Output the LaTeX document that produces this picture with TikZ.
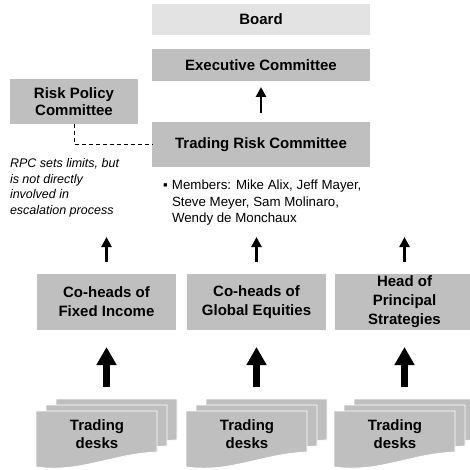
\documentclass[tikz,border=0pt]{standalone}
\usepackage{fontspec}
\setmainfont{Liberation Sans}
\usetikzlibrary{positioning,arrows.meta,backgrounds}

\begin{document}
\begin{tikzpicture}[x=1pt, y=1pt,
  every node/.style={inner sep=0pt, outer sep=0pt},
  unitbox/.style={fill=gray!50, align=center, font=\bfseries\fontsize{15}{19}\selectfont},
  widebox/.style={unitbox, minimum width=218pt},
  headbox/.style={unitbox, minimum width=139pt, minimum height=56pt},
  desklabel/.style={align=center, font=\bfseries\fontsize{15}{18}\selectfont},
  deskfill/.style={fill=gray!50, draw=white, line width=0.8pt},
  notetext/.style={align=left, anchor=north west},
  smallarrow/.style={-{Triangle[width=10pt,length=10pt]}, line width=2.5pt},
  bigarrow/.style={-{Triangle[width=19pt,length=18pt]}, line width=7.5pt},
  linkline/.style={dash pattern=on 4pt off 3pt, line width=0.9pt}]
\useasboundingbox (0,0) rectangle (469,-470);

% board and committees
\node[widebox, minimum height=31pt, fill=gray!22] (board) at (261,-19.5) {Board};
\node[widebox, minimum height=32pt, below=14pt of board] (exec) {Executive Committee};
\node[widebox, minimum height=45pt, below=41pt of exec] (trc) {Trading Risk Committee};
\draw[smallarrow, shorten <=9pt, shorten >=6pt] (trc) -- (exec);

% risk policy committee
\node[unitbox, minimum width=128pt, minimum height=45pt, font=\bfseries\fontsize{15}{16.5}\selectfont]
  (rpc) at (74,-101.5) {Risk Policy\\Committee};
\draw[linkline] (rpc.south) |- (trc.west);

\node[notetext, font=\itshape\fontsize{12.5}{15.7}\selectfont] (rpcnote) at (10,-158.5)
  {RPC sets limits, but\\is not directly\\involved in\\escalation process};

\node[notetext, font=\fontsize{13.3}{16.5}\selectfont] (members) at (163,-180)
  {\makebox[9pt][l]{▪}Members: Mike Alix, Jeff Mayer,\\\hspace*{9pt}Steve Meyer, Sam Molinaro,\\\hspace*{9pt}Wendy de Monchaux};

% business heads
\node[headbox] (fi) at (106.5,-302) {Co-heads of\\Fixed Income};
\node[headbox, right=11pt of fi] (ge) {Co-heads of\\Global Equities};
\node[headbox, right=9pt of ge] (ps) {Head of\\Principal\\Strategies};

\foreach \b in {fi,ge,ps}
  \draw[smallarrow] ([yshift=12pt]\b.north) -- ([yshift=37pt]\b.north);

% trading desks
\node[desklabel] (desk1) at ([shift={(-9.5,-132)}]fi.center) {Trading\\desks};
\node[desklabel] (desk2) at ([shift={(-9.5,-132)}]ge.center) {Trading\\desks};
\node[desklabel] (desk3) at ([shift={(-9.5,-132)}]ps.center) {Trading\\desks};

\begin{scope}[on background layer]
\foreach \d in {desk1,desk2,desk3}
  \foreach \k in {2,1,0}
    \fill[deskfill, shift={(\d.center)}, shift={(-61+10*\k,23+6*\k)}]
      (0,0) -- (121,0) -- (121,-41) .. controls (75,-43) and (45,-62) .. (0,-56) -- cycle;
\end{scope}

\foreach \d/\b in {desk1/fi,desk2/ge,desk3/ps}
  \draw[bigarrow, shorten >=17pt] ([xshift=9.5pt,yshift=47pt]\d.center) -- (\b.south);
\end{tikzpicture}
\end{document}
